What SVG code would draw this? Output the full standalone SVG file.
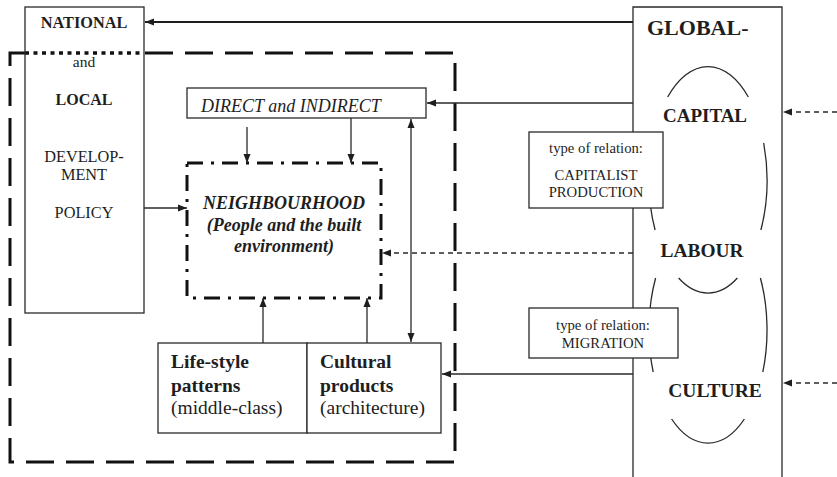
<svg xmlns="http://www.w3.org/2000/svg" width="837" height="477" viewBox="0 0 837 477" font-family="Liberation Serif, serif">
<style>
.box{fill:#fff;stroke:#2a2a2a;stroke-width:1.3}
.ln{fill:none;stroke:#2a2a2a;stroke-width:1.3}
.dl{fill:none;stroke:#2a2a2a;stroke-width:1.3;stroke-dasharray:5 4}
.t{fill:#1e1e1e}
.b{font-weight:bold}
.i{font-style:italic}
.m{text-anchor:middle}
.bigdash{fill:none;stroke:#111;stroke-width:3;stroke-dasharray:28 12}
</style>
<defs>
<marker id="ah" markerUnits="userSpaceOnUse" markerWidth="10" markerHeight="8" refX="9" refY="4" orient="auto-start-reverse">
<path d="M0,0.5 L9,4 L0,7.5 Z" fill="#1e1e1e"/>
</marker>
</defs>

<g id="outer-region">
<path class="bigdash" d="M25,53 H10 V462 H455 V53 H144"/>
<path fill="none" stroke="#111" stroke-width="3.5" stroke-dasharray="4 4.5" d="M25,53 H144"/>
</g>

<g id="national" font-family="Liberation Serif, serif">
<rect class="box" x="25" y="7" width="119" height="306" style="fill:none"/>
<text class="t b m" x="84" y="28" font-size="16.3">NATIONAL</text>
<text class="t m" x="84" y="67" font-size="15.5">and</text>
<text class="t b m" x="84" y="105" font-size="16">LOCAL</text>
<text class="t m" x="84" y="162" font-size="16.3">DEVELOP-</text>
<text class="t m" x="84" y="180" font-size="16.3">MENT</text>
<text class="t m" x="84" y="218" font-size="16.3">POLICY</text>
</g>

<g id="direct" font-family="Liberation Serif, serif">
<rect class="box" x="187" y="88" width="239" height="30"/>
<text class="t i" x="201" y="112" font-size="18">DIRECT and INDIRECT</text>
</g>

<g id="neighbourhood" font-family="Liberation Serif, serif">
<rect x="187" y="163" width="194" height="135" fill="none" stroke="#111" stroke-width="3" stroke-dasharray="16 8 3 8"/>
<text class="t b i m" x="284" y="209" font-size="18">NEIGHBOURHOOD</text>
<text class="t b i m" x="284" y="231" font-size="18">(People and the built</text>
<text class="t b i m" x="284" y="252" font-size="18">environment)</text>
</g>

<g id="lifestyle" font-family="Liberation Serif, serif">
<rect class="box" x="158" y="343" width="149" height="90"/>
<text class="t b" x="171" y="368" font-size="19.5">Life-style</text>
<text class="t b" x="171" y="392" font-size="19.5">patterns</text>
<text class="t" x="171" y="414" font-size="19.5">(middle-class)</text>
</g>

<g id="cultural" font-family="Liberation Serif, serif">
<rect class="box" x="307" y="343" width="134" height="90"/>
<text class="t b" x="320" y="368" font-size="19.5">Cultural</text>
<text class="t b" x="320" y="392" font-size="19.5">products</text>
<text class="t" x="320" y="414" font-size="19.5">(architecture)</text>
</g>

<g id="global" font-family="Liberation Serif, serif">
<path class="ln" d="M633,500 V7 H782 V500"/>
<text class="t b" x="647" y="35" font-size="22">GLOBAL-</text>
<path class="ln" d="M667.7,97 A59,113 0 0 1 748.3,97 M763.7,143 A59,113 0 0 1 760.9,230 M655.1,230 A59,113 0 0 1 652.3,143 M737.4,278 A59,113 0 0 1 678.6,278"/>
<path class="ln" d="M760.4,278 A59,113 0 0 1 762.8,372 M653.2,372 A59,113 0 0 1 655.6,278 M744.4,419 A59,113 0 0 1 671.6,419"/>
<text class="t b m" x="705" y="122" font-size="19">CAPITAL</text>
<text class="t b m" x="702" y="257" font-size="19.4">LABOUR</text>
<text class="t b m" x="715" y="397" font-size="19.5">CULTURE</text>
</g>

<g id="connectors">
<line x1="633" y1="22" x2="145" y2="22" stroke="#1e1e1e" stroke-width="2.2" marker-end="url(#ah)"/>
<line class="ln" x1="633" y1="103" x2="427" y2="103" marker-end="url(#ah)"/>
<line class="ln" x1="247" y1="127" x2="247" y2="163" marker-end="url(#ah)"/>
<line class="ln" x1="351" y1="118" x2="351" y2="163" marker-end="url(#ah)"/>
<line class="ln" x1="144" y1="208" x2="187" y2="208" marker-end="url(#ah)"/>
<line class="dl" x1="633" y1="253" x2="382" y2="253" marker-end="url(#ah)"/>
<line class="ln" x1="411" y1="119" x2="411" y2="342" marker-start="url(#ah)" marker-end="url(#ah)"/>
<line class="ln" x1="263" y1="343" x2="263" y2="298" marker-end="url(#ah)"/>
<line class="ln" x1="367" y1="343" x2="367" y2="298" marker-end="url(#ah)"/>
<line class="ln" x1="633" y1="374" x2="442" y2="374" marker-end="url(#ah)"/>
<line class="dl" x1="837" y1="112" x2="783" y2="112" marker-end="url(#ah)"/>
<line class="dl" x1="837" y1="383" x2="783" y2="383" marker-end="url(#ah)"/>
</g>

<g id="relation-capitalist" font-family="Liberation Serif, serif">
<rect class="box" x="529" y="132" width="134" height="76"/>
<text class="t m" x="596" y="153" font-size="14.7">type of relation:</text>
<text class="t m" x="596" y="180" font-size="14.7">CAPITALIST</text>
<text class="t m" x="596" y="197" font-size="14.7">PRODUCTION</text>
</g>

<g id="relation-migration" font-family="Liberation Serif, serif">
<rect class="box" x="529" y="308" width="149" height="50"/>
<text class="t m" x="603" y="330" font-size="14.7">type of relation:</text>
<text class="t m" x="603" y="348" font-size="14.7">MIGRATION</text>
</g>
</svg>
